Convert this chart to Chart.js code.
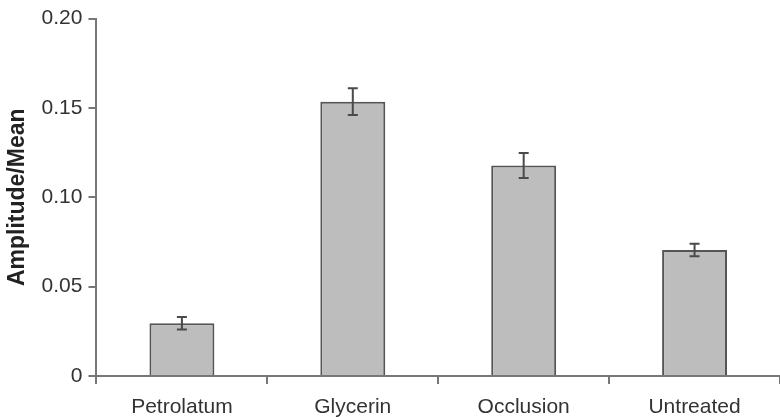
<!DOCTYPE html>
<html>
<head>
<meta charset="utf-8">
<script src="https://cdn.jsdelivr.net/npm/chart.js@4/dist/chart.umd.min.js"></script>
<style>
html,body{margin:0;padding:0;background:#fff;}
#wrap{width:780px;height:417px;}
</style>
</head>
<body>
<div id="wrap"><canvas id="c" width="780" height="417"></canvas></div>
<script>
const categories = ["Petrolatum", "Glycerin", "Occlusion", "Untreated"];
const means = [0.0295, 0.1535, 0.1178, 0.0705];
const errors = [0.0035, 0.0075, 0.007, 0.0035];
const yTicks = [0, 0.05, 0.10, 0.15, 0.20];

const errorBars = {
  id: 'errorBars',
  afterDatasetsDraw(chart) {
    const ctx = chart.ctx;
    const meta = chart.getDatasetMeta(0);
    const y = chart.scales.y;
    ctx.save();
    ctx.strokeStyle = '#4a4a4a';
    ctx.lineWidth = 2;
    meta.data.forEach((bar, i) => {
      const x = bar.x;
      const top = y.getPixelForValue(means[i] + errors[i]);
      const bot = y.getPixelForValue(means[i] - errors[i]);
      ctx.beginPath();
      ctx.moveTo(x, top); ctx.lineTo(x, bot);
      ctx.moveTo(x - 5, top); ctx.lineTo(x + 5, top);
      ctx.moveTo(x - 5, bot); ctx.lineTo(x + 5, bot);
      ctx.stroke();
    });
    ctx.restore();
  }
};

new Chart(document.getElementById('c'), {
  type: 'bar',
  data: {
    labels: categories,
    datasets: [{
      data: means,
      backgroundColor: '#bdbdbd',
      borderColor: '#555555',
      borderWidth: 2,
      barPercentage: 0.38,
      categoryPercentage: 1.0
    }]
  },
  options: {
    responsive: false,
    animation: false,
    layout: { padding: { top: 12, right: 0, bottom: 0, left: 4 } },
    plugins: { legend: { display: false }, tooltip: { enabled: false } },
    scales: {
      x: {
        afterFit(axis) { axis.height = 41; },
        grid: { display: true, drawOnChartArea: false, offset: true, color: '#777', lineWidth: 2, tickLength: 8 },
        border: { display: true, color: '#777', width: 2 },
        ticks: { color: '#333', font: { family: 'Liberation Sans, Arial, sans-serif', size: 21 }, padding: 11 }
      },
      y: {
        min: 0, max: 0.2,
        afterBuildTicks(axis) { axis.ticks = yTicks.map(v => ({ value: v })); },
        grid: { display: true, drawOnChartArea: false, color: '#777', lineWidth: 2, tickLength: 8 },
        border: { display: true, color: '#777', width: 2 },
        ticks: {
          color: '#333',
          font: { family: 'Liberation Sans, Arial, sans-serif', size: 21 },
          padding: 6,
          callback: v => v === 0 ? '0' : v.toFixed(2)
        },
        title: {
          display: true, text: 'Amplitude/Mean', color: '#222',
          font: { family: 'Liberation Sans, Arial, sans-serif', size: 23, weight: 'bold' },
          padding: { top: 0, bottom: 4 }
        }
      }
    }
  },
  plugins: [errorBars]
});
</script>
</body>
</html>
